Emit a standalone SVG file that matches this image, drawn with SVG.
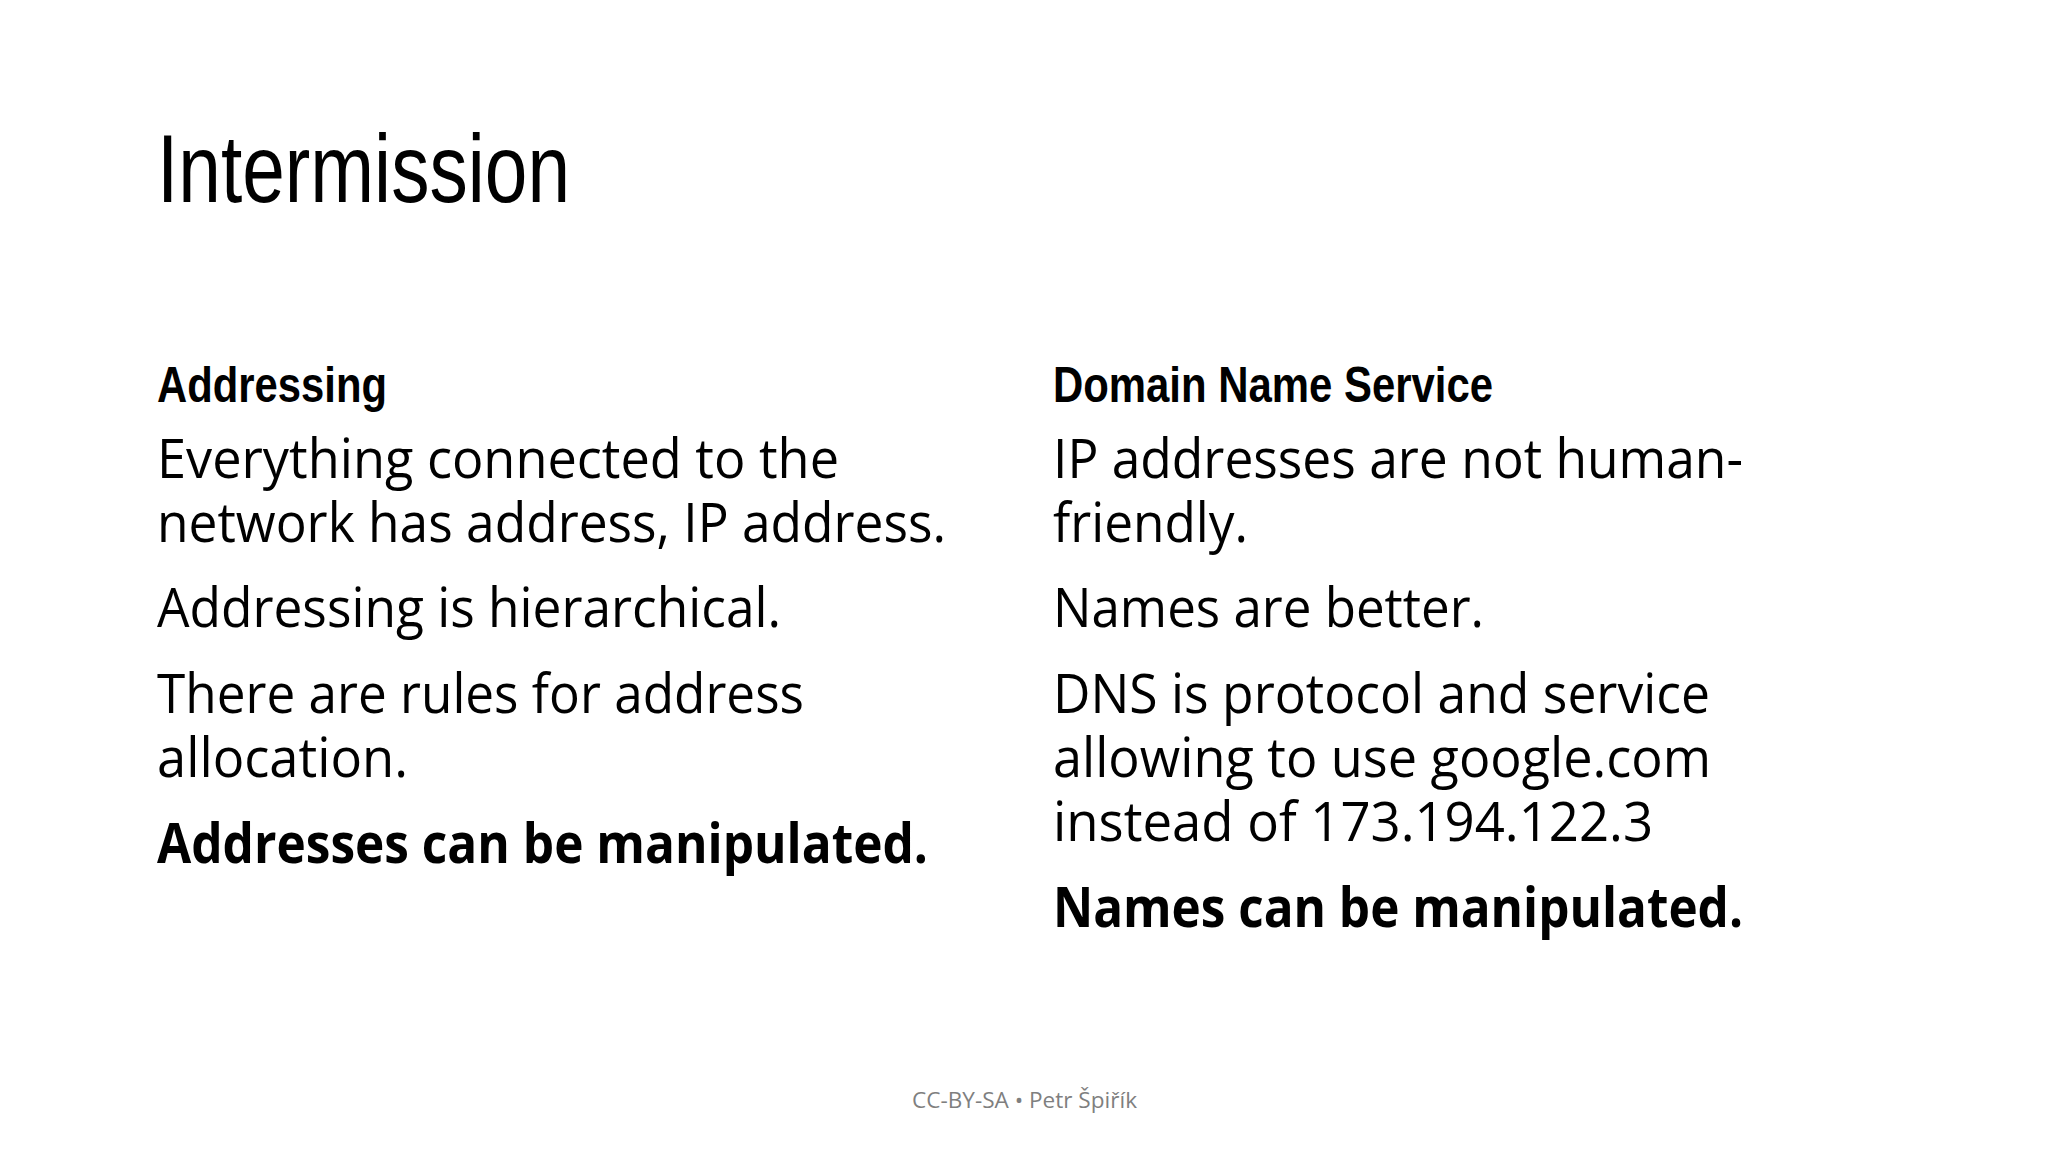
<svg xmlns="http://www.w3.org/2000/svg" width="2048" height="1152" viewBox="0 0 2048 1152">
<style>
.t{font-family:"Liberation Sans Narrow","Liberation Sans",sans-serif;fill:#000}
.h{font-family:"Liberation Sans Narrow","Liberation Sans",sans-serif;font-weight:bold;font-size:50px;fill:#000}
.b{font-family:"Open Sans","Noto Sans",sans-serif;font-size:55px;fill:#000}
.bb{font-weight:bold}
.f{font-family:"Open Sans","Noto Sans",sans-serif;font-size:21px;fill:#7f7f7f}
</style>
<rect width="2048" height="1152" fill="#fff"/>
<g id="title"><text class="t" x="157" y="202" font-size="96" textLength="413" lengthAdjust="spacingAndGlyphs">Intermission</text></g>
<g id="left">
<text class="h" x="157" y="402" textLength="230" lengthAdjust="spacingAndGlyphs">Addressing</text>
<text class="b" x="157" y="478" textLength="682" lengthAdjust="spacingAndGlyphs">Everything connected to the</text>
<text class="b" x="157" y="542" textLength="789" lengthAdjust="spacingAndGlyphs">network has address, IP address.</text>
<text class="b" x="157" y="627" textLength="624" lengthAdjust="spacingAndGlyphs">Addressing is hierarchical.</text>
<text class="b" x="157" y="713" textLength="647" lengthAdjust="spacingAndGlyphs">There are rules for address</text>
<text class="b" x="157" y="777" textLength="251" lengthAdjust="spacingAndGlyphs">allocation.</text>
<text class="b bb" x="157" y="863" textLength="771" lengthAdjust="spacingAndGlyphs">Addresses can be manipulated.</text>
</g>
<g id="right">
<text class="h" x="1053" y="402" textLength="440" lengthAdjust="spacingAndGlyphs">Domain Name Service</text>
<text class="b" x="1053" y="478" textLength="690" lengthAdjust="spacingAndGlyphs">IP addresses are not human-</text>
<text class="b" x="1053" y="542" textLength="195" lengthAdjust="spacingAndGlyphs">friendly.</text>
<text class="b" x="1053" y="627" textLength="431" lengthAdjust="spacingAndGlyphs">Names are better.</text>
<text class="b" x="1053" y="713" textLength="657" lengthAdjust="spacingAndGlyphs">DNS is protocol and service</text>
<text class="b" x="1053" y="777" textLength="658" lengthAdjust="spacingAndGlyphs">allowing to use google.com</text>
<text class="b" x="1053" y="841" textLength="600" lengthAdjust="spacingAndGlyphs">instead of 173.194.122.3</text>
<text class="b bb" x="1053" y="927" textLength="690" lengthAdjust="spacingAndGlyphs">Names can be manipulated.</text>
</g>
<g id="footer"><text class="f" x="912" y="1108" textLength="225" lengthAdjust="spacingAndGlyphs">CC-BY-SA • Petr Špiřík</text></g>
</svg>
